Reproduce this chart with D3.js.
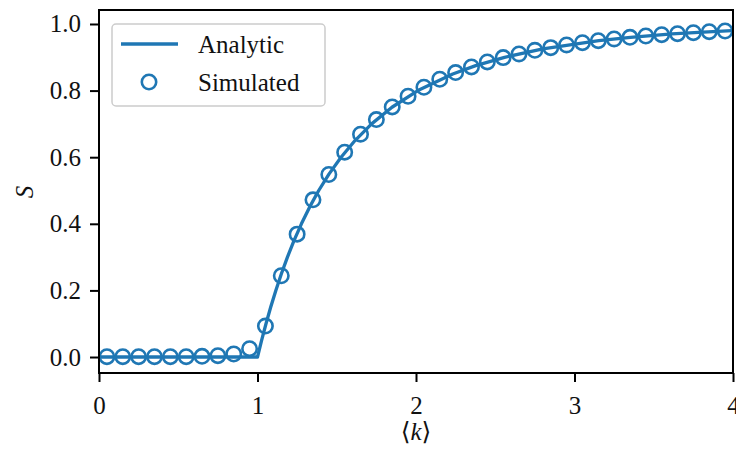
<!DOCTYPE html>
<html><head><meta charset="utf-8">
<script src="https://cdn.jsdelivr.net/npm/d3@7"></script>
<style>body{margin:0;background:#fff}svg{display:block}text{font-family:'Liberation Serif','DejaVu Serif',serif}</style>
</head><body>
<svg id="c" width="736" height="453"></svg>
<script>
// Analytic curve
const analyticK = [0, 0.5, 1.0, 1.0259, 1.0536, 1.0835, 1.1157, 1.1507, 1.1889, 1.2308, 1.2771, 1.3285, 1.3863, 1.4518, 1.5272, 1.6151, 1.72, 1.8484, 2.0118, 2.2319, 2.3765, 2.5584, 2.8003, 3.1534, 3.353, 3.615, 3.7835, 3.9919, 4.0];
const analyticS = [0, 0, 0, 0.05, 0.1, 0.15, 0.2, 0.25, 0.3, 0.35, 0.4, 0.45, 0.5, 0.55, 0.6, 0.65, 0.7, 0.75, 0.8, 0.85, 0.875, 0.9, 0.925, 0.95, 0.96, 0.97, 0.975, 0.98, 0.9802];
// Simulated points
const simK = [0.05,0.15,0.25,0.35,0.45,0.55,0.65,0.75,0.85,0.95,1.05,1.15,1.25,1.35,1.45,1.55,1.65,1.75,1.85,1.95,2.05,2.15,2.25,2.35,2.45,2.55,2.65,2.75,2.85,2.95,3.05,3.15,3.25,3.35,3.45,3.55,3.65,3.75,3.85,3.95];
const simS = [0.001,0.001,0.001,0.001,0.001,0.001,0.002,0.004,0.009,0.025,0.093,0.244,0.369,0.472,0.548,0.615,0.669,0.713,0.751,0.783,0.81,0.834,0.854,0.871,0.886,0.899,0.91,0.921,0.929,0.937,0.944,0.95,0.955,0.96,0.964,0.968,0.971,0.974,0.977,0.979];
const xTicks = [0,1,2,3,4];
const yTicks = [0.0,0.2,0.4,0.6,0.8,1.0];
const legendLabels = ["Analytic","Simulated"];

const color = "#1f77b4";
const font = "'Liberation Serif', 'DejaVu Serif', serif";
const svg = d3.select("#c");
const L=99, R=733, T=10, B=373;
const x = d3.scaleLinear().domain([0,4]).range([L,R]);
const y = d3.scaleLinear().domain([-0.048,1.042]).range([B,T]);

// data
const g = svg.append("g");
g.append("path")
  .datum(analyticK.map((k,i)=>[k,analyticS[i]]))
  .attr("d", d3.line().x(d=>x(d[0])).y(d=>y(d[1])))
  .attr("fill","none").attr("stroke",color).attr("stroke-width",3.3)
  .attr("stroke-linejoin","round");
g.selectAll("circle.s").data(simK.map((k,i)=>[k,simS[i]])).enter()
  .append("circle").attr("class","s")
  .attr("cx",d=>x(d[0])).attr("cy",d=>y(d[1])).attr("r",7.2)
  .attr("fill","none").attr("stroke",color).attr("stroke-width",2.6);

// axes
const xAxis = d3.axisBottom(x).tickValues(xTicks).tickFormat(d3.format("d")).tickSize(9).tickPadding(9);
const yAxis = d3.axisLeft(y).tickValues(yTicks).tickFormat(d3.format(".1f")).tickSize(9).tickPadding(9);
const gx = svg.append("g").attr("transform",`translate(0,${B})`).call(xAxis);
const gy = svg.append("g").attr("transform",`translate(${L},0)`).call(yAxis);
[gx,gy].forEach(a=>{
  a.attr("font-family",font).attr("font-size",25);
  a.select(".domain").remove();
  a.selectAll(".tick line").attr("stroke","#000").attr("stroke-width",2);
  a.selectAll(".tick text").attr("font-family",font).attr("font-size",25).attr("fill","#111");
});
gx.selectAll(".tick text").attr("dy","0.9em");
// frame
svg.append("rect").attr("x",L).attr("y",T).attr("width",R-L).attr("height",B-T)
  .attr("fill","none").attr("stroke","#000").attr("stroke-width",2);

// axis labels
svg.append("text").attr("x",416).attr("y",440).attr("text-anchor","middle")
  .attr("font-family",font).attr("font-size",25).attr("fill","#111")
  .html("⟨<tspan font-style='italic'>k</tspan>⟩");
svg.append("text").attr("transform","translate(33,192) rotate(-90)").attr("text-anchor","middle")
  .attr("font-family",font).attr("font-size",25).attr("font-style","italic").attr("fill","#111").text("S");

// legend
const lg = svg.append("g");
lg.append("rect").attr("x",112).attr("y",24).attr("width",213).attr("height",82).attr("rx",4)
  .attr("fill","#fff").attr("fill-opacity",0.8).attr("stroke","#ccc").attr("stroke-width",1.5);
lg.append("line").attr("x1",121).attr("x2",178).attr("y1",44).attr("y2",44)
  .attr("stroke",color).attr("stroke-width",3.3);
lg.append("circle").attr("cx",149).attr("cy",82).attr("r",7.2)
  .attr("fill","none").attr("stroke",color).attr("stroke-width",2.6);
lg.selectAll("text.l").data(legendLabels).enter().append("text").attr("class","l")
  .attr("x",198).attr("y",(d,i)=>53+i*38)
  .attr("font-family",font).attr("font-size",25).attr("fill","#111").text(d=>d);
</script>
</body></html>
